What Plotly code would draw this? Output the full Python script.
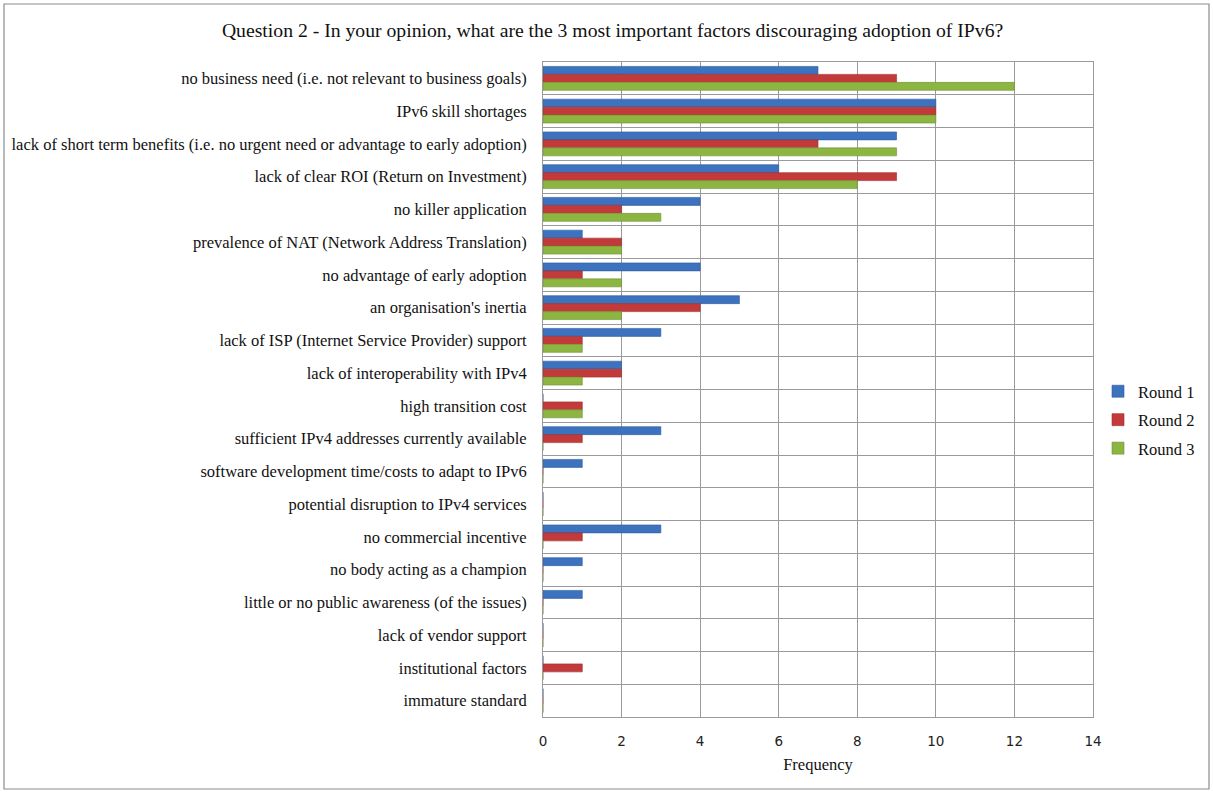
import plotly.graph_objects as go

factors = [
    "no business need (i.e. not relevant to business goals)",
    "IPv6 skill shortages",
    "lack of short term benefits (i.e. no urgent need or advantage to early adoption)",
    "lack of clear ROI (Return on Investment)",
    "no killer application",
    "prevalence of NAT (Network Address Translation)",
    "no advantage of early adoption",
    "an organisation's inertia",
    "lack of ISP (Internet Service Provider) support",
    "lack of interoperability with IPv4",
    "high transition cost",
    "sufficient IPv4 addresses currently available",
    "software development time/costs to adapt to IPv6",
    "potential disruption to IPv4 services",
    "no commercial incentive",
    "no body acting as a champion",
    "little or no public awareness (of the issues)",
    "lack of vendor support",
    "institutional factors",
    "immature standard",
]
round1 = [7, 10, 9, 6, 4, 1, 4, 5, 3, 2, 0, 3, 1, 0, 3, 1, 1, 0, 0, 0]
round2 = [9, 10, 7, 9, 2, 2, 1, 4, 1, 2, 1, 1, 0, 0, 1, 0, 0, 0, 1, 0]
round3 = [12, 10, 9, 8, 3, 2, 2, 2, 1, 1, 1, 0, 0, 0, 0, 0, 0, 0, 0, 0]
series_names = ["Round 1", "Round 2", "Round 3"]
series_colors = ["#3d72bf", "#c23b3a", "#8db542"]
series_edges = ["#2f5c9e", "#9e2e2d", "#6f9232"]
x_ticks = [0, 2, 4, 6, 8, 10, 12, 14]

pos = list(range(len(factors)))
SERIF = "Liberation Serif"

fig = go.Figure()
for name, vals, col, edge in zip(series_names, [round1, round2, round3], series_colors, series_edges):
    fig.add_trace(go.Bar(
        y=pos, x=vals, name=name, orientation="h", legendgroup=name,
        marker=dict(color=col, line=dict(color=edge, width=0.6)),
    ))

L, R, T, B = 543, 120, 62, 75
W, H = 1213, 792
pw, ph = W - L - R, H - T - B

def px_x(p):
    return (p - L) / pw

def px_y(p):
    return (H - B - p) / ph

fig.update_layout(
    width=W, height=H,
    margin=dict(l=L, r=R, t=T, b=B, autoexpand=False),
    paper_bgcolor="white", plot_bgcolor="white",
    barmode="group", bargap=0.27, bargroupgap=0,
    font=dict(family=SERIF, size=16.5, color="#111111"),
    title=dict(
        text="Question 2 - In your opinion, what are the 3 most important factors discouraging adoption of IPv6?",
        x=0.505, xanchor="center", y=1 - 30 / H, yanchor="middle",
        font=dict(family=SERIF, size=19.7, color="#111111"),
    ),
    xaxis=dict(
        range=[0, 14], tickvals=x_ticks, showgrid=True, gridcolor="#9a9a9a", gridwidth=1,
        zeroline=False, showline=True, linecolor="#9a9a9a", mirror=True,
        tickfont=dict(family="DejaVu Sans", size=13.5, color="#222222"),
        title=dict(text="Frequency", font=dict(family=SERIF, size=16.5), standoff=10),
        ticklabelstandoff=12,
    ),
    yaxis=dict(
        tickmode="array", tickvals=pos, ticktext=factors,
        range=[len(factors) - 0.5, -0.5], showgrid=False, zeroline=False,
        showline=True, linecolor="#9a9a9a", mirror=True,
        minor=dict(tick0=0.5, dtick=1, showgrid=True, gridcolor="#9a9a9a", gridwidth=1),
        ticklabelstandoff=12,
    ),
    legend=dict(
        x=px_x(1098), y=px_y(374), xanchor="left", yanchor="top",
        font=dict(family=SERIF, size=16.5), itemwidth=30, tracegroupgap=4,
        bgcolor="rgba(0,0,0,0)",
    ),
    shapes=[dict(
        type="rect", xref="paper", yref="paper",
        x0=px_x(4), x1=px_x(1209), y0=px_y(789), y1=px_y(4),
        line=dict(color="#8c8c8c", width=1.2), layer="below",
    )],
)

fig.write_html("out.html")
